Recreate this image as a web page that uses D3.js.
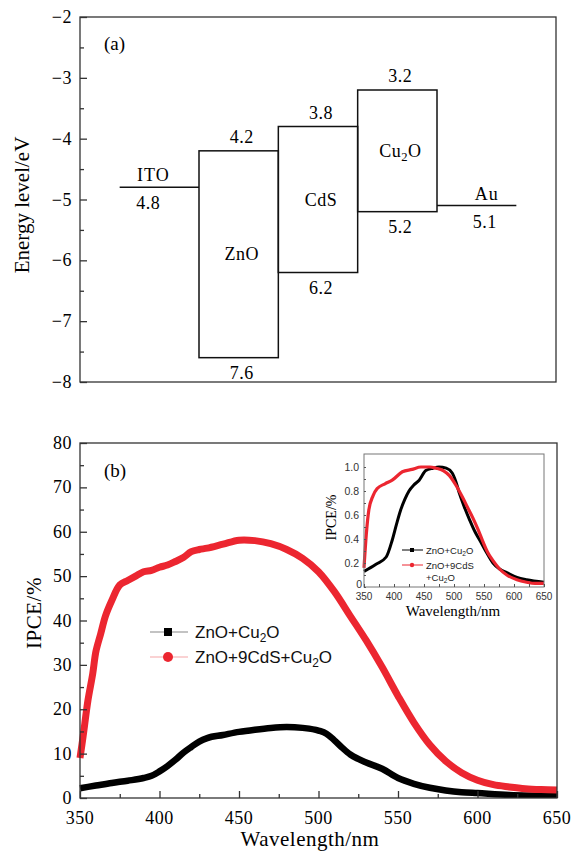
<!DOCTYPE html>
<html>
<head>
<meta charset="utf-8">
<script src="https://cdn.jsdelivr.net/npm/d3@7"></script>
<style>
  body { margin: 0; background: #fff; }
  svg { display: block; }
</style>
</head>
<body>
<div id="chart"></div>
<script>
// ---------- panel (a) data: energy levels (eV below vacuum) ----------
var layers = ['ITO', 'ZnO', 'CdS', 'Cu2O', 'Au'];
var levelTop = [4.8, 4.2, 3.8, 3.2, 5.1];
var levelBottom = [null, 7.6, 6.2, 5.2, null];
var energyTicks = [-2, -3, -4, -5, -6, -7, -8];

// ---------- panel (b) data: IPCE (%) ----------
var redWl = [350, 352, 355, 358, 360, 363, 366, 370, 375, 380, 385, 390, 395, 400, 405, 410, 415, 420, 425, 430, 440, 450, 460, 470, 480, 490, 500, 510, 520, 530, 540, 550, 560, 570, 580, 590, 600, 610, 620, 630, 640, 650];
var redIpce = [9, 14, 22, 28, 33, 37, 41, 44.5, 48, 49, 50, 51, 51.3, 52, 52.5, 53.3, 54.2, 55.5, 56, 56.3, 57.2, 58.1, 58, 57.3, 56, 54, 51, 46.5, 41, 35.5, 29.5, 23, 17, 12, 8.3, 5.7, 4, 3, 2.5, 2.1, 1.9, 1.8];
var blackWl = [350, 360, 370, 380, 390, 395, 400, 405, 410, 415, 420, 425, 430, 440, 450, 460, 470, 480, 490, 500, 505, 510, 515, 520, 525, 530, 540, 550, 560, 570, 580, 590, 600, 620, 650];
var blackIpce = [2.2, 2.8, 3.4, 3.9, 4.5, 5.0, 6.0, 7.2, 8.6, 10.2, 11.5, 12.7, 13.5, 14.2, 14.9, 15.4, 15.8, 16, 15.8, 15.2, 14.5, 13, 11.3, 9.8, 8.8, 8, 6.6, 4.5, 3.2, 2.3, 1.7, 1.3, 1.1, 0.7, 0.5];

// inset: normalised IPCE
var insetRedWl = [350, 354, 358, 365, 372, 385, 397, 414, 430, 445, 460, 470, 482, 492, 503, 514, 522, 531, 540, 548, 556, 565, 576, 588, 605, 621, 635, 650];
var insetRed = [0.16, 0.45, 0.64, 0.76, 0.82, 0.86, 0.89, 0.96, 0.98, 1.0, 1.0, 0.99, 0.97, 0.93, 0.85, 0.75, 0.67, 0.58, 0.48, 0.38, 0.29, 0.22, 0.15, 0.10, 0.06, 0.04, 0.03, 0.03];
var insetBlackWl = [350, 370, 387, 397, 404, 411, 418, 425, 433, 442, 453, 465, 475, 487, 497, 503, 509, 517, 526, 535, 543, 554, 565, 576, 588, 605, 621, 650];
var insetBlack = [0.13, 0.19, 0.25, 0.39, 0.52, 0.64, 0.73, 0.8, 0.85, 0.89, 0.97, 0.99, 1.0, 0.99, 0.95, 0.88, 0.78, 0.67, 0.56, 0.46, 0.39, 0.29, 0.2, 0.15, 0.12, 0.08, 0.06, 0.04];

var ipceTicks = [0, 10, 20, 30, 40, 50, 60, 70, 80];
var wlTicks = [350, 400, 450, 500, 550, 600, 650];
var insetYTicks = [0, 0.2, 0.4, 0.6, 0.8, 1.0];

var legendNames = [['ZnO+Cu', '2', 'O'], ['ZnO+9CdS+Cu', '2', 'O']];

var red = '#ec2630';
var serif = '"Liberation Serif", "Times New Roman", serif';
var sans = '"Liberation Sans", Arial, sans-serif';

// small horizontal nudges for the labels of the single-line levels (ITO, Au)
var nameShift = { ITO: -6, Au: 10 };
var valueShift = { ITO: -11, Au: 8 };

var svgWidth = 573, svgHeight = 851;
var svg = d3.select('#chart').append('svg')
  .attr('width', svgWidth)
  .attr('height', svgHeight);
svg.append('rect').attr('width', svgWidth).attr('height', svgHeight).attr('fill', '#fff');

// text with a subscript part
function formula(sel, parts, size) {
  sel.append('tspan').text(parts[0]);
  if (parts.length > 1) {
    sel.append('tspan').attr('font-size', size * 0.7).attr('dy', size * 0.22).text(parts[1]);
    sel.append('tspan').attr('dy', -size * 0.22).text(parts[2]);
  }
  return sel;
}

// ================= panel (a) =================
var a = { left: 80, right: 556, top: 17, bottom: 382 };
var xA = d3.scaleLinear().domain([-0.5, 5.5]).range([a.left, a.right]);
var yA = d3.scaleLinear().domain([-8, -2]).range([a.bottom, a.top]);

var gA = svg.append('g');
gA.append('rect')
  .attr('x', a.left).attr('y', a.top)
  .attr('width', a.right - a.left).attr('height', a.bottom - a.top)
  .attr('fill', 'none').attr('stroke', '#333').attr('stroke-width', 1.3);

// left axis, ticks inward
var yAxisA = gA.append('g').attr('transform', `translate(${a.left},0)`);
yAxisA.call(d3.axisRight(yA).tickValues(d3.range(-8, -1.9, 0.5)).tickSize(4).tickFormat(''));
yAxisA.call(g => g.select('.domain').remove());
yAxisA.selectAll('line').attr('stroke', '#333').attr('stroke-width', 1.3);
yAxisA.selectAll('.tick').filter(d => Number.isInteger(d)).select('line').attr('x2', 7);

gA.selectAll('.ylab').data(energyTicks).enter().append('text')
  .attr('x', 72).attr('y', d => yA(d) + 6)
  .attr('text-anchor', 'end')
  .attr('font-family', serif).attr('font-size', 18).attr('letter-spacing', 0.5)
  .text(d => d3.format('')(d));

gA.append('text')
  .attr('transform', 'translate(29,205) rotate(-90)')
  .attr('text-anchor', 'middle')
  .attr('font-family', serif).attr('font-size', 21)
  .text('Energy level/eV');

gA.append('text').attr('x', 104).attr('y', 50)
  .attr('font-family', serif).attr('font-size', 19).text('(a)');

// level boxes and lines
layers.forEach(function(name, i) {
  var x0 = xA(i), x1 = xA(i + 1), xc = (x0 + x1) / 2;
  var yt = yA(-levelTop[i]);
  if (levelBottom[i] === null) {
    gA.append('line')
      .attr('x1', x0).attr('x2', x1).attr('y1', yt).attr('y2', yt)
      .attr('stroke', '#111').attr('stroke-width', 1.5);
    gA.append('text').attr('x', xc + nameShift[name]).attr('y', yt - 6)
      .attr('text-anchor', 'middle').attr('font-family', serif).attr('font-size', 18)
      .attr('letter-spacing', 1)
      .text(name);
    gA.append('text').attr('x', xc + valueShift[name]).attr('y', yt + 22)
      .attr('text-anchor', 'middle').attr('font-family', serif).attr('font-size', 18)
      .attr('letter-spacing', 0.5)
      .text(levelTop[i].toFixed(1));
  } else {
    var yb = yA(-levelBottom[i]);
    gA.append('rect')
      .attr('x', x0).attr('y', yt).attr('width', x1 - x0).attr('height', yb - yt)
      .attr('fill', 'none').attr('stroke', '#111').attr('stroke-width', 1.5);
    gA.append('text').attr('x', xc + 3).attr('y', yt - 8)
      .attr('text-anchor', 'middle').attr('font-family', serif).attr('font-size', 18)
      .attr('letter-spacing', 0.5)
      .text(levelTop[i].toFixed(1));
    gA.append('text').attr('x', xc + 3).attr('y', yb + 21)
      .attr('text-anchor', 'middle').attr('font-family', serif).attr('font-size', 18)
      .attr('letter-spacing', 0.5)
      .text(levelBottom[i].toFixed(1));
    var lab = gA.append('text').attr('x', xc + 3).attr('y', (yt + yb) / 2 + 6)
      .attr('text-anchor', 'middle').attr('font-family', serif).attr('font-size', 18)
      .attr('letter-spacing', 0.5);
    if (name === 'Cu2O') formula(lab, ['Cu', '2', 'O'], 18);
    else lab.text(name);
  }
});

// ================= panel (b) =================
var b = { left: 80, right: 557, top: 443, bottom: 798 };
var xB = d3.scaleLinear().domain([350, 650]).range([b.left, b.right]);
var yB = d3.scaleLinear().domain([0, 80]).range([b.bottom, b.top]);

var gB = svg.append('g');

var lineB = d3.line().x(d => xB(d[0])).y(d => yB(d[1])).curve(d3.curveMonotoneX);
var lineSmooth = d3.line().x(d => xB(d[0])).y(d => yB(d[1])).curve(d3.curveCatmullRom.alpha(0.5));
gB.append('path')
  .datum(d3.zip(blackWl, blackIpce))
  .attr('d', lineB).attr('fill', 'none').attr('stroke', '#000').attr('stroke-width', 6.5)
  .attr('stroke-linejoin', 'round');
gB.append('path')
  .datum(d3.zip(redWl, redIpce))
  .attr('d', lineSmooth).attr('fill', 'none').attr('stroke', red).attr('stroke-width', 7)
  .attr('stroke-linejoin', 'round');

// white mask below axis so thick strokes stay inside
gB.append('rect').attr('x', 0).attr('y', b.bottom).attr('width', svgWidth).attr('height', 60).attr('fill', '#fff');

gB.append('rect')
  .attr('x', b.left).attr('y', b.top)
  .attr('width', b.right - b.left).attr('height', b.bottom - b.top)
  .attr('fill', 'none').attr('stroke', '#333').attr('stroke-width', 1.3);

var yAxisB = gB.append('g').attr('transform', `translate(${b.left},0)`);
yAxisB.call(d3.axisRight(yB).tickValues(d3.range(0, 81, 5)).tickSize(4).tickFormat(''));
yAxisB.call(g => g.select('.domain').remove());
yAxisB.selectAll('line').attr('stroke', '#333').attr('stroke-width', 1.3);
yAxisB.selectAll('.tick').filter(d => d % 10 === 0).select('line').attr('x2', 7);

var xAxisB = gB.append('g').attr('transform', `translate(0,${b.bottom})`);
xAxisB.call(d3.axisTop(xB).tickValues(d3.range(350, 651, 25)).tickSize(4).tickFormat(''));
xAxisB.call(g => g.select('.domain').remove());
xAxisB.selectAll('line').attr('stroke', '#333').attr('stroke-width', 1.3);
xAxisB.selectAll('.tick').filter(d => d % 50 === 0).select('line').attr('y2', -7);

gB.selectAll('.ylabB').data(ipceTicks).enter().append('text')
  .attr('x', 72).attr('y', d => yB(d) + 6)
  .attr('text-anchor', 'end')
  .attr('font-family', serif).attr('font-size', 18).attr('letter-spacing', 0.5)
  .text(d => d);
gB.selectAll('.xlabB').data(wlTicks).enter().append('text')
  .attr('x', d => xB(d)).attr('y', 824)
  .attr('text-anchor', 'middle')
  .attr('font-family', serif).attr('font-size', 18).attr('letter-spacing', 0.5)
  .text(d => d);

gB.append('text').attr('x', 310).attr('y', 846)
  .attr('text-anchor', 'middle').attr('font-family', serif).attr('font-size', 21)
  .attr('letter-spacing', 0.5)
  .text('Wavelength/nm');
gB.append('text')
  .attr('transform', 'translate(41,613) rotate(-90)')
  .attr('text-anchor', 'middle').attr('font-family', serif).attr('font-size', 21)
  .attr('letter-spacing', 0.5)
  .text('IPCE/%');

gB.append('text').attr('x', 104).attr('y', 477)
  .attr('font-family', serif).attr('font-size', 19).text('(b)');

// legend
var legendY = [632, 657];
legendNames.forEach(function(parts, i) {
  var lg = gB.append('g').attr('transform', `translate(0,${legendY[i]})`);
  lg.append('line').attr('x1', 150).attr('x2', 188).attr('y1', 0).attr('y2', 0)
    .attr('stroke', i === 0 ? '#888' : '#f5a5a8').attr('stroke-width', 1.2);
  if (i === 0) {
    lg.append('rect').attr('x', 164).attr('y', -4).attr('width', 8).attr('height', 8).attr('fill', '#000');
  } else {
    lg.append('circle').attr('cx', 168).attr('cy', 0).attr('r', 5).attr('fill', red);
  }
  var t = lg.append('text').attr('x', 195).attr('y', 6)
    .attr('font-family', sans).attr('font-size', 17).attr('fill', '#111');
  formula(t, parts, 17);
});

// ================= inset =================
var ins = { left: 364, right: 544, top: 454, bottom: 587 };
var xI = d3.scaleLinear().domain([350, 650]).range([ins.left, ins.right]);
var yI = d3.scaleLinear().domain([0, 1]).range([ins.bottom, 467]);
var gI = svg.append('g');

var lineI = d3.line().x(d => xI(d[0])).y(d => yI(d[1])).curve(d3.curveMonotoneX);
gI.append('path').datum(d3.zip(insetBlackWl, insetBlack))
  .attr('d', lineI).attr('fill', 'none').attr('stroke', '#000').attr('stroke-width', 3);
gI.append('path').datum(d3.zip(insetRedWl, insetRed))
  .attr('d', lineI).attr('fill', 'none').attr('stroke', red).attr('stroke-width', 3.2);

gI.append('rect')
  .attr('x', ins.left).attr('y', ins.top)
  .attr('width', ins.right - ins.left).attr('height', ins.bottom - ins.top)
  .attr('fill', 'none').attr('stroke', '#777').attr('stroke-width', 1);

var yAxisI = gI.append('g').attr('transform', `translate(${ins.left},0)`);
yAxisI.call(d3.axisRight(yI).tickValues(d3.range(0, 1.01, 0.1)).tickSize(2).tickFormat(''));
yAxisI.call(g => g.select('.domain').remove());
yAxisI.selectAll('line').attr('stroke', '#555');
var xAxisI = gI.append('g').attr('transform', `translate(0,${ins.bottom})`);
xAxisI.call(d3.axisTop(xI).tickValues(d3.range(350, 651, 25)).tickSize(3).tickFormat(''));
xAxisI.call(g => g.select('.domain').remove());
xAxisI.selectAll('line').attr('stroke', '#555');

gI.selectAll('.ylabI').data(insetYTicks).enter().append('text')
  .attr('x', d => d === 0 ? 362 : 359).attr('y', d => d === 0 ? 588 : yI(d) + 4)
  .attr('text-anchor', 'end')
  .attr('font-family', sans).attr('font-size', 10.5).attr('fill', '#333')
  .text(d => d === 0 ? '0' : d3.format('.1f')(d));
gI.selectAll('.xlabI').data(wlTicks).enter().append('text')
  .attr('x', d => xI(d)).attr('y', 600)
  .attr('text-anchor', 'middle')
  .attr('font-family', sans).attr('font-size', 10).attr('fill', '#333')
  .text(d => d);

gI.append('text').attr('x', 453).attr('y', 616)
  .attr('text-anchor', 'middle').attr('font-family', serif).attr('font-size', 15)
  .text('Wavelength/nm');
gI.append('text')
  .attr('transform', `translate(336,${(ins.top + ins.bottom) / 2 - 3}) rotate(-90)`)
  .attr('text-anchor', 'middle').attr('font-family', serif).attr('font-size', 14)
  .text('IPCE/%');

// inset legend
var insLegY = [550, 565];
legendNames.forEach(function(parts, i) {
  var lg = gI.append('g').attr('transform', `translate(0,${insLegY[i]})`);
  lg.append('line').attr('x1', 402).attr('x2', 423).attr('y1', 0).attr('y2', 0)
    .attr('stroke', i === 0 ? '#000' : red).attr('stroke-width', 1);
  if (i === 0) {
    lg.append('rect').attr('x', 410).attr('y', -2).attr('width', 4).attr('height', 4).attr('fill', '#000');
  } else {
    lg.append('circle').attr('cx', 412).attr('cy', 0).attr('r', 2.2).attr('fill', red);
  }
  var t = lg.append('text').attr('x', 426).attr('y', 3.5)
    .attr('font-family', sans).attr('font-size', 9.5).attr('fill', '#222');
  if (i === 0) formula(t, parts, 9.5);
  else t.text('ZnO+9CdS');
});
formula(gI.append('text').attr('x', 426).attr('y', 580.5)
  .attr('font-family', sans).attr('font-size', 9.5).attr('fill', '#222'), ['+Cu', '2', 'O'], 9.5);
</script>
</body>
</html>
